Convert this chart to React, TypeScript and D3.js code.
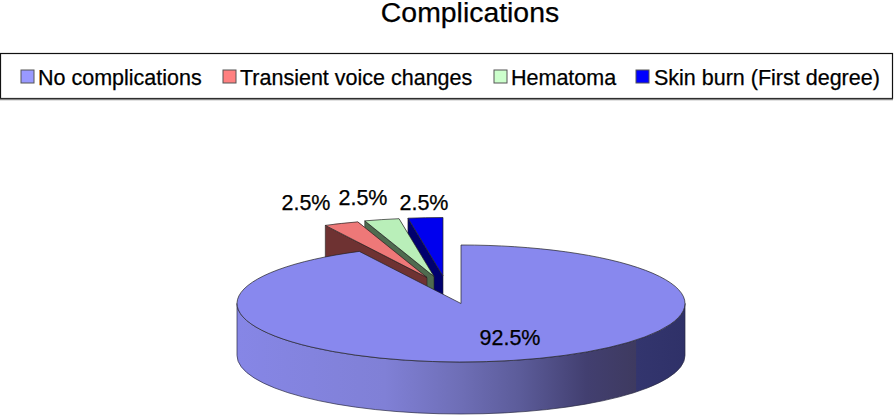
import React from "react";
import * as d3 from "d3";

const W = 894, H = 415;
const titleText = "Complications";
const categories = ["No complications", "Transient voice changes", "Hematoma", "Skin burn (First degree)"];
const values = [92.5, 2.5, 2.5, 2.5];
const percentLabels = ["92.5%", "2.5%", "2.5%", "2.5%"];
const legendColors = ["#9999ff", "#ff8080", "#ccffcc", "#0000ff"];
const topColors = ["#8888ee", "#ee7878", "#b9efb9", "#0000ee"];
const sideColors = ["#8080e0", "#6e3232", "#4f6b4f", "#00006e"];
const explodeX = [0, -34, -27, -18];
const explodeY = [0, -26, -27, -27.5];
const labelX = [510, 306, 363, 424];
const labelY = [345, 210, 205, 210];
const legendSwatchX = [21, 223, 494, 636];
const legendTextX = [38, 240, 511, 654];
const drawOrder = [3, 2, 1, 0];

const cx = 461, cy = 303.5, rx = 224, ry = 58.5, depth = 52;

const wallStops: [number, string][] = [
  [0, "#8686e6"], [0.33, "#8080d6"], [0.5, "#6e6eb6"], [0.63, "#5c5c9a"],
  [0.78, "#423f70"], [0.89, "#3e3a60"], [0.892, "#33356e"], [1, "#2f3168"],
];

const pieGen = d3.pie<number>().sort(null);
const arcGen = d3.arc<d3.PieArcDatum<number>>().innerRadius(0).outerRadius(1);

export default function App() {
  const arcs = pieGen(values);
  const pt = (a: number, dx: number, dy: number): [number, number] => [
    cx + dx + rx * Math.sin(a),
    cy + dy - ry * Math.cos(a),
  ];
  const edge = "#222";
  const wallPath = `M${cx - rx},${cy} A${rx},${ry} 0 0 0 ${cx + rx},${cy} L${cx + rx},${cy + depth} A${rx},${ry} 0 0 1 ${cx - rx},${cy + depth} Z`;
  return (
    <svg
      width={W}
      height={H}
      viewBox={`0 0 ${W} ${H}`}
      style={{ position: "absolute", left: 0, top: 0, display: "block", background: "#fff", fontFamily: "'Liberation Sans', Arial, sans-serif" }}
    >
      <defs>
        <linearGradient id="wall" gradientUnits="userSpaceOnUse" x1={cx - rx} x2={cx + rx} y1={0} y2={0}>
          {wallStops.map(([o, c], i) => <stop key={i} offset={o} stopColor={c} />)}
        </linearGradient>
      </defs>
      <text x={470} y={22} textAnchor="middle" fontSize={28.4} fill="#000" stroke="#000" strokeWidth={0.25}>{titleText}</text>

      <rect x={0.5} y={53.5} width={892} height={45} fill="#fff" stroke="#111" strokeWidth={1.2} />
      <line x1={0} x2={893} y1={99.5} y2={99.5} stroke="#888" strokeWidth={1.4} />
      {categories.map((c, i) => (
        <g key={c}>
          <rect x={legendSwatchX[i]} y={70} width={13} height={13} fill={legendColors[i]} stroke="#555" strokeWidth={1} />
          <text x={legendTextX[i]} y={84.5} fontSize={21.5} fill="#000" stroke="#000" strokeWidth={0.25}>{c}</text>
        </g>
      ))}

      {drawOrder.map((i) => {
        const a = arcs[i];
        const dx = explodeX[i], dy = explodeY[i];
        const apex: [number, number] = [cx + dx, cy + dy];
        const p = pt(a.startAngle, dx, dy);
        const face = d3.line()([p, apex, [apex[0], apex[1] + depth], [p[0], p[1] + depth]]) + "Z";
        const outer = pt(a.endAngle, dx, dy);
        return (
          <g key={i}>
            {i === 0 ? (
              <path d={wallPath} fill="url(#wall)" stroke="#2a2a44" strokeWidth={0.7} />
            ) : (
              <>
                <path d={d3.line()([outer, apex, [apex[0], apex[1] + depth], [outer[0], outer[1] + depth]]) + "Z"} fill={sideColors[i]} />
                <path d={face} fill={sideColors[i]} stroke={edge} strokeWidth={0.6} />
              </>
            )}
            <path
              d={arcGen(a) as string}
              transform={`translate(${cx + dx},${cy + dy}) scale(${rx},${ry})`}
              fill={topColors[i]}
              stroke={edge}
              strokeWidth={0.7}
              style={{ vectorEffect: "non-scaling-stroke" }}
            />
          </g>
        );
      })}

      {percentLabels.map((t, i) => (
        <text key={i} x={labelX[i]} y={labelY[i]} textAnchor="middle" fontSize={21.5} fill="#000" stroke="#000" strokeWidth={0.25}>{t}</text>
      ))}
    </svg>
  );
}
